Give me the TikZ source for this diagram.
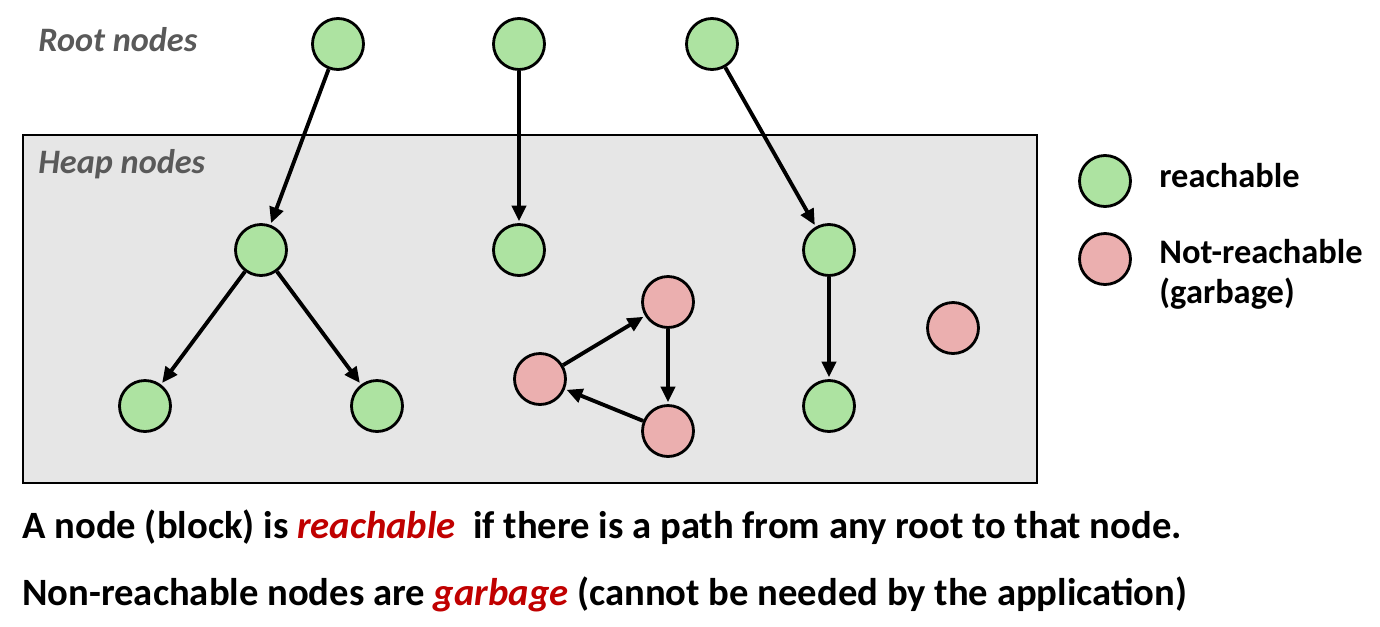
\documentclass[tikz,border=0pt]{standalone}
\usepackage{fontspec}
\setmainfont{Carlito}
\usetikzlibrary{arrows.meta}
\definecolor{livegreen}{HTML}{ADE3A1}
\definecolor{deadred}{HTML}{EBAFAF}
\definecolor{heapgray}{HTML}{E6E6E6}
\definecolor{labelgray}{HTML}{595959}
\definecolor{darkred}{HTML}{C00000}
\begin{document}
\begin{tikzpicture}[x=0.02cm,y=-0.02cm,
  live/.style={circle, draw=black, line width=1.6pt, fill=livegreen, minimum size=1.02cm, inner sep=0pt},
  dead/.style={live, fill=deadred},
  ptr/.style={-{Triangle[length=9pt,width=8pt]}, line width=2.2pt, shorten >=1pt},
  tag/.style={anchor=base west, text=labelgray, font=\fontsize{19.5}{22}\selectfont\bfseries\itshape, inner sep=0pt},
  key/.style={anchor=base west, font=\fontsize{19.6}{22.7}\selectfont\bfseries, inner sep=0pt, align=left},
  caption/.style={anchor=base west, inner sep=0pt, font=\fontsize{22}{24}\selectfont\bfseries}]
\useasboundingbox (0,0) rectangle (1380,626);
%Heap area
\filldraw[draw = black, fill = heapgray, line width=0.6pt] (23,135) rectangle (1037,483);
\node[tag] (roottag) at (38,51) {Root nodes};
\node[tag] (heaptag) at (38,173) {Heap nodes};
%Roots
\node[live] (r1) at (338,44) {};
\node[live] (r2) at (519,44) {};
\node[live] (r3) at (712,44) {};
%Reachable heap nodes
\node[live] (h1) at (261,250) {};
\node[live] (h2) at (519,250) {};
\node[live] (h3) at (829,250) {};
\node[live] (h4) at (145,406) {};
\node[live] (h5) at (377,406) {};
\node[live] (h6) at (829,406) {};
%Garbage
\node[dead] (g1) at (668,302) {};
\node[dead] (g2) at (540,379) {};
\node[dead] (g3) at (668,431) {};
\node[dead] (g4) at (953,328) {};
%Pointers
\draw[ptr] (r1) -- (h1);
\draw[ptr] (r2) -- (h2);
\draw[ptr] (r3) -- (h3);
\draw[ptr] (h1) -- (h4);
\draw[ptr] (h1) -- (h5);
\draw[ptr] (h3) -- (h6);
\draw[ptr] (g2) -- (g1);
\draw[ptr] (g1) -- (g3);
\draw[ptr] (g3) -- (g2);
%Legend
\node[live] (keylive) at (1105,181) {};
\node[dead] (keydead) at (1105,259) {};
\node[key] (keylivetext) at (1159,187) {reachable};
\node[key] (keydeadtext) at (1159,303) {Not-reachable\\(garbage)};
%Captions
\node[caption] (line1) at (22,538)
  {A node (block) is \textcolor{darkred}{\itshape reachable}\ \ if there is a path from any root to that node.};
\node[caption] (line2) at (22,605)
  {Non-reachable nodes are \textcolor{darkred}{\itshape garbage} (cannot be needed by the application)};
\end{tikzpicture}
\end{document}
